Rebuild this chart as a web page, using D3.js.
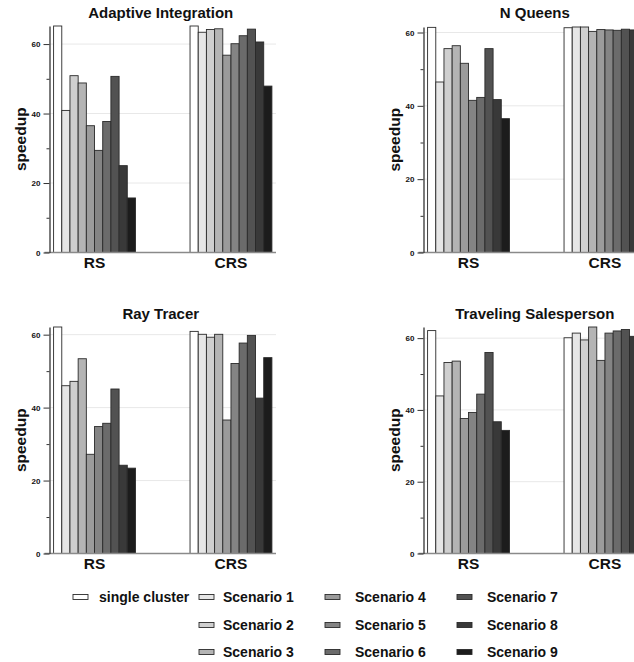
<!DOCTYPE html>
<html>
<head>
<meta charset="utf-8">
<script src="https://cdn.jsdelivr.net/npm/d3@7"></script>
<style>
  body { margin: 0; background: #fff; }
  svg { display: block; }
  svg text { font-family: "Liberation Sans", Arial, sans-serif; }
</style>
</head>
<body>
<svg id="chart" width="634" height="662" font-family="Liberation Sans, Arial, sans-serif"></svg>
<script>
// data
const groups = ["RS", "CRS"];
const seriesNames = ["single cluster", "Scenario 1", "Scenario 2", "Scenario 3", "Scenario 4",
  "Scenario 5", "Scenario 6", "Scenario 7", "Scenario 8", "Scenario 9"];
const titles = ["Adaptive Integration", "N Queens", "Ray Tracer", "Traveling Salesperson"];

const adaptiveRS  = [65.2, 40.9, 50.9, 48.8, 36.5, 29.4, 37.7, 50.7, 25.0, 15.7];
const adaptiveCRS = [65.2, 63.4, 64.2, 64.4, 56.8, 60.1, 62.4, 64.3, 60.6, 47.9];
const queensRS    = [61.4, 46.5, 55.6, 56.4, 51.6, 41.5, 42.3, 55.6, 41.7, 36.5];
const queensCRS   = [61.3, 61.5, 61.5, 60.3, 60.8, 60.7, 60.6, 60.9, 60.7, 60.7];
const rayRS       = [62.1, 46.0, 47.2, 53.4, 27.2, 34.8, 35.7, 45.1, 24.2, 23.4];
const rayCRS      = [60.9, 60.1, 59.3, 60.1, 36.6, 52.1, 57.7, 59.8, 42.6, 53.7];
const tspRS       = [62.1, 43.9, 53.2, 53.6, 37.6, 39.3, 44.4, 56.0, 36.7, 34.3];
const tspCRS      = [60.1, 61.4, 59.5, 63.1, 53.8, 61.4, 62.0, 62.4, 60.5, 60.4];

const majorTicks = [0, 20, 40, 60];
const minorTicks = [10, 30, 50];

const panelData = [
  [adaptiveRS, adaptiveCRS],
  [queensRS, queensCRS],
  [rayRS, rayCRS],
  [tspRS, tspCRS]
];

const fills = ["#ffffff", "#e6e6e6", "#cfcfcf", "#b4b4b4", "#9b9b9b",
  "#848484", "#6b6b6b", "#525252", "#393939", "#1c1c1c"];
const font = "'Liberation Sans', Arial, sans-serif";

const svg = d3.select("#chart");

// panel origins: axis x, plot top / bottom y
const panels = [
  { x: 49.5, top: 26, bottom: 252.5, titleY: 18, labelY: 268 },
  { x: 423.5, top: 27, bottom: 252.5, titleY: 18, labelY: 268 },
  { x: 49.5, top: 327, bottom: 553.5, titleY: 319, labelY: 569 },
  { x: 423.5, top: 327, bottom: 553.5, titleY: 319, labelY: 569 }
];
const plotW = 226.5;

panels.forEach(function(p, i) {
  let data = panelData[i];
  let g = svg.append("g");

  let x = d3.scaleBand().domain(groups)
    .range([p.x, p.x + plotW]).paddingInner(0.4).paddingOuter(0.03);
  let xs = d3.scaleBand().domain(d3.range(seriesNames.length)).range([0, x.bandwidth()]);
  let y = d3.scaleLinear()
    .domain([0, d3.max(data, function(d) { return d3.max(d); })])
    .range([p.bottom, p.top]);

  // gridlines
  g.selectAll(".grid")
    .data(majorTicks.filter(function(t) { return t > 0; }))
    .enter().append("line")
    .attr("x1", p.x).attr("x2", p.x + plotW)
    .attr("y1", function(d) { return y(d); })
    .attr("y2", function(d) { return y(d); })
    .attr("stroke", "#e8e8e8").attr("stroke-width", 1);

  // bars
  groups.forEach(function(grp, gi) {
    g.selectAll(".bar" + gi)
      .data(data[gi])
      .enter().append("rect")
      .attr("x", function(d, k) { return x(grp) + xs(k); })
      .attr("y", function(d) { return y(d); })
      .attr("width", xs.bandwidth())
      .attr("height", function(d) { return y(0) - y(d); })
      .attr("fill", function(d, k) { return fills[k]; })
      .attr("stroke", "#2a2a2a")
      .attr("stroke-width", 0.9);
  });

  // x axis
  g.append("line")
    .attr("x1", p.x - 5).attr("x2", p.x + plotW)
    .attr("y1", y(0)).attr("y2", y(0))
    .attr("stroke", "#8a8a8a").attr("stroke-width", 1.6);

  // y axis
  let yAxis = g.append("g")
    .attr("transform", "translate(" + p.x + ",0)")
    .call(d3.axisLeft(y).tickValues(majorTicks).tickSize(6).tickSizeOuter(0).tickPadding(3));
  yAxis.attr("font-family", font);
  yAxis.select(".domain").attr("stroke", "#444").attr("stroke-width", 1.4);
  yAxis.selectAll(".tick line").attr("stroke", "#333");
  yAxis.selectAll(".tick text")
    .attr("font-size", 8).attr("font-weight", "bold").attr("fill", "#111")
    .attr("font-family", font);

  g.append("g")
    .attr("transform", "translate(" + p.x + ",0)")
    .call(d3.axisLeft(y).tickValues(minorTicks).tickSize(3).tickFormat(""))
    .call(function(s) { s.select(".domain").remove(); })
    .selectAll(".tick line").attr("stroke", "#333");

  // group labels
  g.selectAll(".grpLabel")
    .data(groups)
    .enter().append("text")
    .attr("x", function(d) { return x(d) + x.bandwidth() / 2; })
    .attr("y", p.labelY)
    .attr("text-anchor", "middle")
    .attr("font-family", font)
    .attr("font-size", 15.5).attr("font-weight", "bold").attr("fill", "#111")
    .text(function(d) { return d; });

  // title
  g.append("text")
    .attr("x", p.x + plotW / 2 - 2)
    .attr("y", p.titleY)
    .attr("text-anchor", "middle")
    .attr("font-family", font)
    .attr("font-size", 15).attr("font-weight", "bold").attr("fill", "#111")
    .text(titles[i]);

  // y label
  g.append("text")
    .attr("transform", "translate(" + (p.x - 24) + "," + ((p.top + p.bottom) / 2) + ") rotate(-90)")
    .attr("text-anchor", "middle")
    .attr("font-family", font)
    .attr("font-size", 15.5).attr("font-weight", "bold").attr("fill", "#111")
    .text("speedup");
});

// legend
const legCols = [73, 199, 325, 457];
const legRows = [597, 625, 652];
const legend = svg.append("g");
seriesNames.forEach(function(name, k) {
  let col = k === 0 ? 0 : Math.floor((k - 1) / 3) + 1;
  let row = k === 0 ? 0 : (k - 1) % 3;
  let lx = legCols[col], ly = legRows[row];
  legend.append("rect")
    .attr("x", lx).attr("y", ly - 2.5)
    .attr("width", 15).attr("height", 5)
    .attr("fill", fills[k]).attr("stroke", "#2a2a2a").attr("stroke-width", 0.9);
  legend.append("text")
    .attr("x", k === 0 ? lx + 26 : lx + (col === 1 ? 24 : 30))
    .attr("y", ly + 5)
    .attr("font-family", font)
    .attr("font-size", 14).attr("font-weight", "bold").attr("fill", "#111")
    .text(name);
});
</script>
</body>
</html>
